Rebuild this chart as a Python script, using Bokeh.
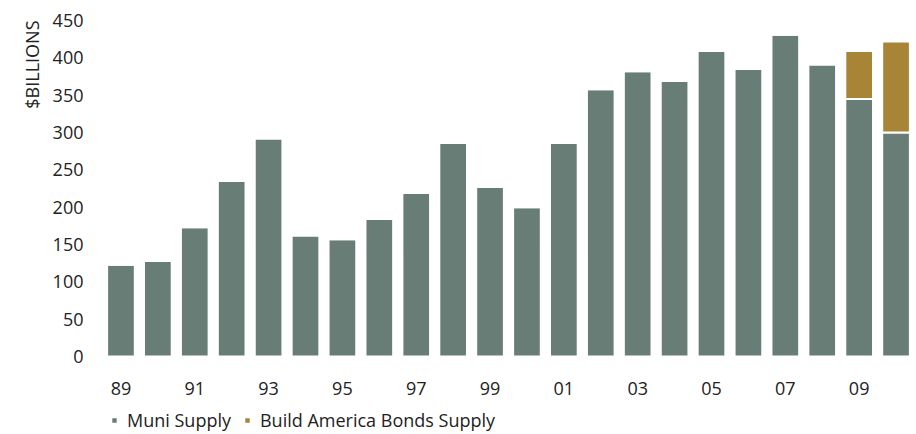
from bokeh.plotting import figure
from bokeh.models import (ColumnDataSource, Range1d, FixedTicker, Legend, LegendItem, Title)
from bokeh.embed import file_html
from bokeh.resources import INLINE

# ---- data ----
years = [1989, 1990, 1991, 1992, 1993, 1994, 1995, 1996, 1997, 1998, 1999,
         2000, 2001, 2002, 2003, 2004, 2005, 2006, 2007, 2008, 2009, 2010]
muni_supply = [123, 128, 173, 235, 292, 162, 157, 184, 219, 286, 227,
               200, 286, 358, 382, 369, 409, 385, 431, 391, 345, 300]
bab_supply = [0, 0, 0, 0, 0, 0, 0, 0, 0, 0, 0,
              0, 0, 0, 0, 0, 0, 0, 0, 0, 64, 122]
tick_years = [1989, 1991, 1993, 1995, 1997, 1999, 2001, 2003, 2005, 2007, 2009]
tick_labels = ["89", "91", "93", "95", "97", "99", "01", "03", "05", "07", "09"]
y_ticks = [0, 50, 100, 150, 200, 250, 300, 350, 400, 450]
series_names = ["Muni Supply", "Build America Bonds Supply"]
y_title = "$BILLIONS"

MUNI_COLOR = "#687d76"
BAB_COLOR = "#a88436"
FONT = "Open Sans"
TEXT_COLOR = "#222222"

src = ColumnDataSource(dict(year=years, muni=muni_supply, bab=bab_supply))

# frame runs to the bottom of the canvas; the x axis sits at y = 0 and the
# legend lives inside the frame below the tick labels
p = figure(width=916, height=434, output_backend="svg", toolbar_location=None,
           x_range=Range1d(1988.5, 2010.5), y_range=Range1d(-104.5, 450),
           min_border_left=102, min_border_right=2, min_border_top=20,
           min_border_bottom=0)

r = p.vbar_stack(["muni", "bab"], x="year", width=0.75, source=src,
                 color=[MUNI_COLOR, BAB_COLOR], line_color="white", line_width=2)
r[0].glyph.fill_color = MUNI_COLOR
r[1].glyph.fill_color = BAB_COLOR

p.outline_line_color = None
p.xgrid.visible = False
p.ygrid.visible = False
p.background_fill_color = "white"
p.border_fill_color = "white"

for ax in (p.xaxis[0], p.yaxis[0]):
    ax.axis_line_color = None
    ax.major_tick_line_color = None
    ax.minor_tick_line_color = None
    ax.major_tick_out = 0
    ax.major_tick_in = 0
    ax.major_label_text_font = FONT
    ax.major_label_text_font_size = "18px"
    ax.major_label_text_color = TEXT_COLOR

p.xaxis[0].ticker = FixedTicker(ticks=tick_years)
p.xaxis[0].major_label_overrides = {y: l for y, l in zip(tick_years, tick_labels)}
p.xaxis[0].major_label_standoff = 26
p.xaxis[0].fixed_location = 0
p.yaxis[0].ticker = FixedTicker(ticks=y_ticks)
p.yaxis[0].major_label_standoff = 19

ytitle = Title(text=y_title, align="right", text_font=FONT, text_font_size="18px",
               text_font_style="normal", text_color=TEXT_COLOR, standoff=12)
p.add_layout(ytitle, "left")

legend = Legend(items=[LegendItem(label=series_names[0], renderers=[r[0]]),
                       LegendItem(label=series_names[1], renderers=[r[1]])],
                orientation="horizontal", location=(8, 2),
                glyph_width=8, glyph_height=8, label_height=20,
                label_standoff=9, spacing=12,
                padding=0, margin=0, border_line_color=None,
                background_fill_alpha=0,
                label_text_font=FONT, label_text_font_size="18px",
                label_text_color=TEXT_COLOR)
p.add_layout(legend)

open("out.html", "w").write(file_html(p, INLINE))
